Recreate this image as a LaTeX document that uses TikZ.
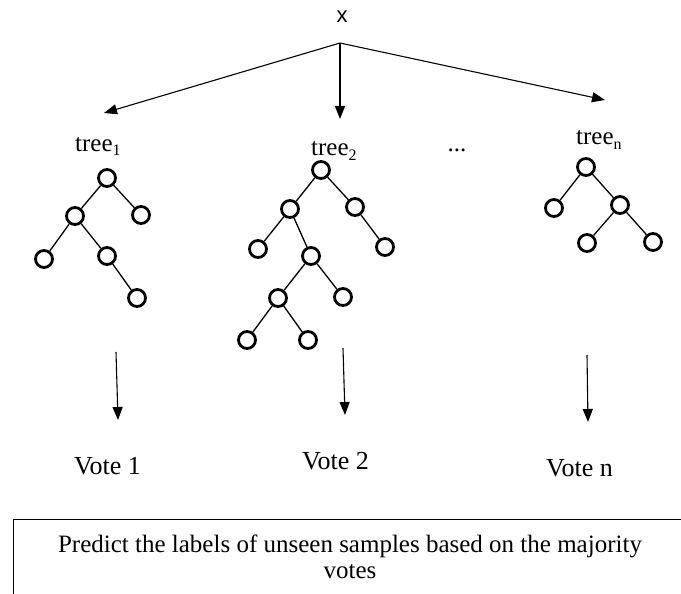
\documentclass[tikz,border=0pt]{standalone}
\usepackage{fontspec}
\setmainfont{Liberation Serif}
\newfontfamily\xfont{Liberation Sans}
\usetikzlibrary{arrows.meta}
\newcommand{\sbs}[1]{\raisebox{-5pt}{\fontsize{16}{16}\selectfont #1}}
\begin{document}
\begin{tikzpicture}[x=1pt,y=-1pt,
  leaf/.style={circle,draw,line width=2.8pt,minimum size=17pt,inner sep=0pt},
  edge/.style={line width=1.3pt},
  arr/.style={line width=1.1pt,-{Triangle[length=13pt,width=10pt]}},
  treelbl/.style={font=\fontsize{25}{27}\selectfont,inner sep=0pt,anchor=base west},
  votelbl/.style={font=\fontsize{26}{28}\selectfont,inner sep=0pt,anchor=base west},
  boxstyle/.style={draw,line width=1.3pt,anchor=north west,inner sep=0pt,minimum width=720pt,minimum height=120pt}]
\clip (0,0) rectangle (681,594);
\useasboundingbox (0,0) rectangle (681,594);

% input
\node[font=\xfont\fontsize{22}{23}\selectfont,inner sep=0pt,anchor=base] (x) at (342,23) {x};
\coordinate (apex) at (340,43);
\coordinate (t1) at (104,113);
\coordinate (t2) at (340,119);
\coordinate (tn) at (605,100);
\draw[arr] (apex) -- (t1);
\draw[arr] (apex) -- (t2);
\draw[arr] (apex) -- (tn);

% labels
\node[treelbl] (lab1) at (75,151) {tree\sbs{1}};
\node[treelbl] (lab2) at (311,156) {tree\sbs{2}};
\node[treelbl] (labn) at (576,145) {tree\sbs{n}};
\node[font=\fontsize{25}{26}\selectfont,inner sep=0pt,anchor=base] (dots) at (457,151) {...};

% tree 1
\node[leaf] (a0) at (107,178) {};
\node[leaf] (a1) at (75,216) {};
\node[leaf] (a2) at (141,215) {};
\node[leaf] (a3) at (44,259) {};
\node[leaf] (a4) at (107,256) {};
\node[leaf] (a5) at (137,298) {};
\draw[edge] (a0) -- (a1);
\draw[edge] (a0) -- (a2);
\draw[edge] (a1) -- (a3);
\draw[edge] (a1) -- (a4);
\draw[edge] (a4) -- (a5);

% tree 2
\node[leaf] (b0) at (321,170) {};
\node[leaf] (b1) at (290,209) {};
\node[leaf] (b2) at (355,207) {};
\node[leaf] (b3) at (258,249) {};
\node[leaf] (b4) at (311,256) {};
\node[leaf] (b5) at (385,247) {};
\node[leaf] (b6) at (278,298) {};
\node[leaf] (b7) at (343,297) {};
\node[leaf] (b8) at (247,340) {};
\node[leaf] (b9) at (308,340) {};
\draw[edge] (b0) -- (b1);
\draw[edge] (b0) -- (b2);
\draw[edge] (b1) -- (b3);
\draw[edge] (b1) -- (b4);
\draw[edge] (b2) -- (b5);
\draw[edge] (b4) -- (b6);
\draw[edge] (b4) -- (b7);
\draw[edge] (b6) -- (b8);
\draw[edge] (b6) -- (b9);

% tree n
\node[leaf] (c0) at (586,167) {};
\node[leaf] (c1) at (554,208) {};
\node[leaf] (c2) at (620,205) {};
\node[leaf] (c3) at (587,243) {};
\node[leaf] (c4) at (653,242) {};
\draw[edge] (c0) -- (c1);
\draw[edge] (c0) -- (c2);
\draw[edge] (c2) -- (c3);
\draw[edge] (c2) -- (c4);

% vote arrows
\coordinate (v1s) at (116,352);
\coordinate (v1e) at (118,420);
\coordinate (v2s) at (343,348);
\coordinate (v2e) at (345,415);
\coordinate (vns) at (587,355);
\coordinate (vne) at (588,422);
\draw[arr] (v1s) -- (v1e);
\draw[arr] (v2s) -- (v2e);
\draw[arr] (vns) -- (vne);

\node[votelbl] (vote1) at (74,474) {Vote 1};
\node[votelbl] (vote2) at (302,469) {Vote 2};
\node[votelbl] (voten) at (546,476) {Vote n};

% result box
\node[boxstyle] (box) at (13,519) {};
\node[font=\fontsize{25}{26}\selectfont,inner sep=0pt,align=center,anchor=north] (pred) at (350,535)
  {Predict the labels of unseen samples based on the majority\\votes};
\end{tikzpicture}
\end{document}
